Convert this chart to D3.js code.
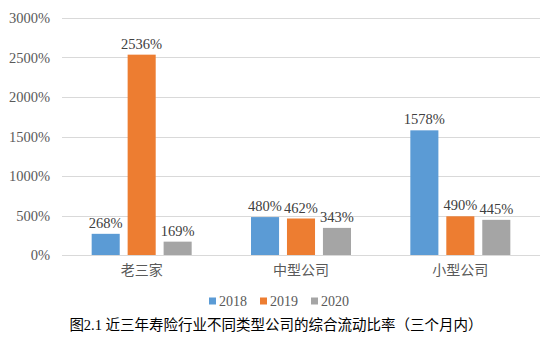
<!DOCTYPE html>
<html><head><meta charset="utf-8">
<script src="https://cdn.jsdelivr.net/npm/d3@7"></script>
<style>body{margin:0;background:#fff}svg{display:block}</style>
</head><body>
<script>
const categories = ["老三家", "中型公司", "小型公司"];
const seriesNames = ["2018", "2019", "2020"];
const values2018 = [268, 480, 1578];
const values2019 = [2536, 462, 490];
const values2020 = [169, 343, 445];
const yTicks = [0, 500, 1000, 1500, 2000, 2500, 3000];
const colors = ["#5B9BD5", "#ED7D31", "#A5A5A5"];
const title = "图2.1  近三年寿险行业不同类型公司的综合流动比率（三个月内）";

const W = 550, H = 357;
const margin = {left: 62, right: 10, top: 18, bottom: 102};
const svg = d3.select("body").append("svg").attr("width", W).attr("height", H);
const serif = "'Liberation Serif','Times New Roman','Noto Sans CJK SC',serif";
const cjk = "'Liberation Serif','Noto Sans CJK SC',sans-serif";

const x0 = d3.scaleBand().domain(categories).range([margin.left, W - margin.right]);
const y = d3.scaleLinear().domain([0, 3000]).range([H - margin.bottom, margin.top]);
const x1 = d3.scaleBand().domain(seriesNames).range([0, 100]).paddingInner(0.22);

// gridlines
svg.append("g").selectAll("line").data(yTicks).join("line")
  .attr("x1", margin.left).attr("x2", W - margin.right)
  .attr("y1", d => Math.round(y(d)) + 0.5).attr("y2", d => Math.round(y(d)) + 0.5)
  .attr("stroke", "#d9d9d9").attr("stroke-width", 1);

// y axis labels
const yAxis = d3.axisLeft(y).tickValues(yTicks).tickFormat(d => d + "%").tickSize(0).tickPadding(12);
const ya = svg.append("g").attr("transform", `translate(${margin.left},0)`).call(yAxis);
ya.select(".domain").remove();
ya.selectAll("text").attr("font-family", serif).attr("font-size", 14.5).attr("fill", "#595959");

// x axis labels
const xAxis = d3.axisBottom(x0).tickSize(0).tickPadding(10);
const xa = svg.append("g").attr("transform", `translate(0,${y(0)})`).call(xAxis);
xa.select(".domain").remove();
xa.selectAll("text").attr("font-family", cjk).attr("font-size", 14).attr("fill", "#595959");

const data = categories.map((c, i) => ({cat: c, vals: [values2018[i], values2019[i], values2020[i]]}));

const groups = svg.append("g").selectAll("g").data(data).join("g")
  .attr("transform", d => `translate(${x0(d.cat) + x0.bandwidth() / 2 - 50},0)`);

groups.selectAll("rect").data(d => d.vals.map((v, i) => ({s: seriesNames[i], v, i}))).join("rect")
  .attr("x", d => x1(d.s)).attr("width", x1.bandwidth())
  .attr("y", d => y(d.v)).attr("height", d => y(0) - y(d.v))
  .attr("fill", d => colors[d.i]);

groups.selectAll("text").data(d => d.vals.map((v, i) => ({s: seriesNames[i], v, i}))).join("text")
  .attr("x", d => x1(d.s) + x1.bandwidth() / 2).attr("y", d => y(d.v) - 6)
  .attr("text-anchor", "middle").attr("font-family", serif).attr("font-size", 14.5)
  .attr("fill", "#404040").text(d => d.v + "%");

// legend
const legendX = [209, 260, 311];
const lg = svg.append("g").selectAll("g").data(seriesNames).join("g")
  .attr("transform", (d, i) => `translate(${legendX[i]},301)`);
lg.append("rect").attr("x", 0).attr("y", -3.5).attr("width", 7).attr("height", 7).attr("fill", (d, i) => colors[i]);
lg.append("text").attr("x", 10).attr("y", 5).attr("font-family", serif).attr("font-size", 14)
  .attr("fill", "#595959").text(d => d);

// title
svg.append("text").attr("x", 276).attr("y", 330).attr("text-anchor", "middle")
  .attr("font-family", cjk).attr("font-size", 14.5).attr("fill", "#000").text(title);
</script>
</body></html>
